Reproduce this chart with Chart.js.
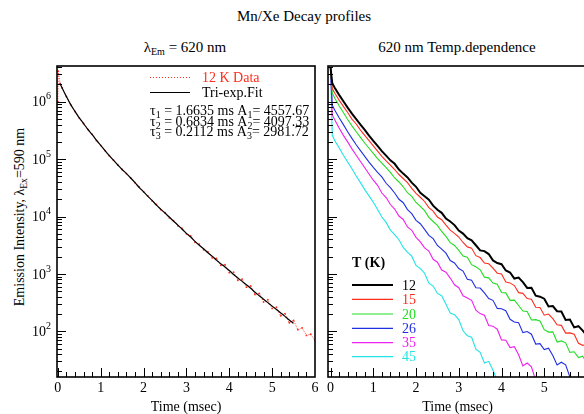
<!DOCTYPE html>
<html>
<head>
<meta charset="utf-8">
<script src="https://cdn.jsdelivr.net/npm/chart.js@4.4.1/dist/chart.umd.min.js"></script>
<style>
  html, body { margin: 0; padding: 0; background: #fff; }
  body { width: 584px; height: 414px; position: relative; overflow: hidden; font-family: 'Liberation Serif', 'Times New Roman', serif; color: #000; }
  canvas { position: absolute; top: 0; }
  #left-chart { left: 0; }
  #right-chart { left: 322px; }
  .label { position: absolute; white-space: nowrap; font-size: 15px; line-height: 15px; }
  .label sub { font-size: 10px; vertical-align: -3px; line-height: 0; }
  #main-title { top: 9px; left: 104px; width: 400px; text-align: center; }
  #left-title { top: 40px; left: 85px; width: 200px; text-align: center; }
  #right-title { top: 40px; left: 357px; width: 200px; text-align: center; }
  #y-title { left: 20px; top: 217px; font-size: 14px; line-height: 14px; transform: translate(-50%, -50%) rotate(-90deg); }
  #y-title sub { font-size: 9.5px; }
</style>
</head>
<body>
<div class="label" id="main-title">Mn/Xe Decay profiles</div>
<div class="label" id="left-title">&lambda;<sub>Em</sub> = 620 nm</div>
<div class="label" id="right-title">620 nm Temp.dependence</div>
<div class="label" id="y-title">Emission Intensity, &lambda;<sub>Ex</sub>=590 nm</div>
<canvas id="left-chart" width="322" height="414" style="width:322px;height:414px"></canvas>
<canvas id="right-chart" width="290" height="414" style="width:290px;height:414px"></canvas>
<script>
// Left panel: 12 K decay data and tri-exponential fit
const dataTime = [0, 0.01, 0.05,
    0.1, 0.2, 0.3, 0.4, 0.5, 0.6, 0.7, 0.8, 0.9, 1.0,
    1.1, 1.2, 1.3, 1.4, 1.5, 1.6, 1.7, 1.8, 1.9, 2.0,
    2.1, 2.2, 2.3, 2.4, 2.5, 2.6, 2.7, 2.8, 2.9, 3.0,
    3.1, 3.2, 3.3, 3.4, 3.5, 3.6, 3.7, 3.8, 3.9, 4.0,
    4.1, 4.2, 4.3, 4.4, 4.5, 4.6, 4.7, 4.8, 4.9, 5.0,
    5.1, 5.2, 5.3, 5.4, 5.5, 5.6, 5.7, 5.8, 5.9, 6.0];
const data12K = [1.0e6, 3.4e6, 2.1e6,
    1.74e6, 1.23e6, 8.9e5, 6.8e5, 5.2e5, 4.2e5, 3.3e5, 2.7e5, 2.1e5, 1.74e5,
    1.41e5, 1.15e5, 9.6e4, 7.9e4, 6.6e4, 5.6e4, 4.7e4, 3.9e4, 3.3e4, 2.7e4,
    2.3e4, 1.86e4, 1.62e4, 1.32e4, 1.17e4, 9.5e3, 8.5e3, 6.9e3, 6.2e3, 5.0e3,
    4.6e3, 3.55e3, 3.3e3, 2.63e3, 2.45e3, 1.91e3, 1.86e3, 1.41e3, 1.45e3, 1.05e3,
    1.07e3, 776, 813, 589, 617, 437, 457, 324, 355, 251,
    263, 186, 204, 141, 155, 107, 115, 85, 89, 69];
const fitTime = [0.05,
    0.1, 0.2, 0.3, 0.4, 0.5, 0.6, 0.7, 0.8, 0.9, 1.0,
    1.1, 1.2, 1.3, 1.4, 1.5, 1.6, 1.7, 1.8, 1.9, 2.0,
    2.1, 2.2, 2.3, 2.4, 2.5, 2.6, 2.7, 2.8, 2.9, 3.0,
    3.1, 3.2, 3.3, 3.4, 3.5, 3.6, 3.7, 3.8, 3.9, 4.0,
    4.1, 4.2, 4.3, 4.4, 4.5, 4.6, 4.7, 4.8, 4.9, 5.0,
    5.1, 5.2, 5.3, 5.4, 5.5];
const fitValues = [2.09e6,
    1.74e6, 1.23e6, 8.9e5, 6.8e5, 5.25e5, 4.17e5, 3.3e5, 2.69e5, 2.14e5, 1.74e5,
    1.41e5, 1.15e5, 9.5e4, 7.9e4, 6.6e4, 5.6e4, 4.7e4, 3.9e4, 3.2e4, 2.7e4,
    2.24e4, 1.91e4, 1.58e4, 1.35e4, 1.15e4, 9.8e3, 8.3e3, 7.1e3, 6.0e3, 5.1e3,
    4.4e3, 3.7e3, 3.16e3, 2.75e3, 2.34e3, 2.04e3, 1.74e3, 1.51e3, 1.32e3, 1.15e3,
    977, 851, 741, 646, 562, 479, 417, 363, 316, 275,
    240, 209, 182, 158, 138];
const tauValues = ['1.6635', '0.6834', '0.2112'];
const ampValues = ['4557.67', '4097.33', '2981.72'];

// Right panel: temperature dependence
const tempTime = [0, 0.04,
    0.1, 0.2, 0.3, 0.4, 0.5, 0.6, 0.7, 0.8, 0.9, 1.0,
    1.1, 1.2, 1.3, 1.4, 1.5, 1.6, 1.7, 1.8, 1.9, 2.0,
    2.1, 2.2, 2.3, 2.4, 2.5, 2.6, 2.7, 2.8, 2.9, 3.0,
    3.1, 3.2, 3.3, 3.4, 3.5, 3.6, 3.7, 3.8, 3.9, 4.0,
    4.1, 4.2, 4.3, 4.4, 4.5, 4.6, 4.7, 4.8, 4.9, 5.0,
    5.1, 5.2, 5.3, 5.4, 5.5, 5.6, 5.7, 5.8, 5.9, 6.0];
const tempLabels = ['12', '15', '20', '26', '35', '45'];
const decay12 = [3.9e6, 2.1e6,
    1.74e6, 1.32e6, 1.02e6, 7.9e5, 6.2e5, 5.0e5, 4.0e5, 3.24e5, 2.57e5, 2.09e5,
    1.70e5, 1.38e5, 1.15e5, 9.55e4, 8.3e4, 6.6e4, 5.6e4, 4.8e4, 3.9e4,
    3.3e4, 2.6e4, 2.26e4, 1.97e4, 1.55e4, 1.31e4, 1.16e4, 9.2e3, 8.2e3, 7.1e3,
    5.7e3, 5.05e3, 4.19e3, 3.85e3, 3.16e3, 2.57e3, 2.5e3, 2.22e3, 1.72e3, 1.55e3,
    1.48e3, 1.15e3, 1.06e3, 832, 863, 718, 570, 575, 417, 402,
    370, 272, 275, 224, 221, 158, 160, 117, 123, 103, 83];
const decay15 = [3.9e6, 1.70e6,
    1.41e6, 1.07e6, 8.3e5, 6.5e5, 5.0e5, 4.1e5, 3.2e5, 2.6e5, 2.1e5, 1.70e5,
    1.38e5, 1.12e5, 9.3e4, 7.9e4, 6.6e4, 5.4e4, 4.6e4, 3.9e4, 3.1e4,
    2.54e4, 2.17e4, 1.83e4, 1.43e4, 1.24e4, 9.8e3, 8.8e3, 7.1e3, 5.8e3, 5.1e3,
    4.4e3, 3.53e3, 2.96e3, 2.82e3, 2.08e3, 1.93e3, 1.55e3, 1.50e3, 1.26e3, 1.03e3,
    1.0e3, 724, 698, 628, 472, 459, 373, 363, 263, 260,
    191, 200, 166, 130, 127, 93, 94, 89, 62, 57, 59];
const decay20 = [3.9e6, 1.41e6,
    1.15e6, 8.5e5, 6.5e5, 4.9e5, 3.8e5, 3.0e5, 2.4e5, 1.91e5, 1.55e5, 1.26e5,
    1.02e5, 8.5e4, 7.1e4, 5.9e4, 4.7e4, 4.0e4, 3.3e4, 2.6e4, 2.24e4,
    1.76e4, 1.51e4, 1.27e4, 9.7e3, 8.2e3, 7.0e3, 5.5e3, 4.5e3, 3.51e3, 3.14e3,
    2.58e3, 2.05e3, 1.95e3, 1.45e3, 1.33e3, 1.18e3, 879, 855, 695, 661,
    476, 468, 347, 350, 282, 226, 221, 158, 160, 151,
    107, 97, 98, 65, 68, 63, 43, 44, 35, 37, 28];
const decay26 = [3.9e6, 8.7e5,
    7.1e5, 5.25e5, 4.0e5, 3.0e5, 2.3e5, 1.78e5, 1.41e5, 1.12e5, 8.9e4, 7.2e4,
    5.9e4, 4.9e4, 3.8e4, 3.2e4, 2.57e4, 2.0e4, 1.74e4, 1.32e4, 1.12e4,
    8.6e3, 7.5e3, 5.97e3, 4.69e3, 4.12e3, 3.13e3, 2.71e3, 2.30e3, 1.71e3, 1.55e3,
    1.24e3, 1.12e3, 809, 776, 575, 568, 466, 372, 347, 251,
    248, 229, 162, 145, 141, 95, 99, 89, 60, 61,
    48, 51, 38, 26, 29, 26, 16, 14, 15];
const decay35 = [3.9e6, 5.9e5,
    4.8e5, 3.5e5, 2.6e5, 2.0e5, 1.51e5, 1.17e5, 9.1e4, 7.1e4, 5.5e4, 4.3e4,
    3.5e4, 2.57e4, 2.14e4, 1.62e4, 1.35e4, 1.02e4, 8.9e3, 6.6e3, 5.75e3,
    4.33e3, 3.62e3, 2.84e3, 2.51e3, 1.80e3, 1.60e3, 1.17e3, 1.07e3, 847, 646,
    575, 417, 382, 347, 234, 204, 191, 126, 123, 109,
    71, 70, 52, 54, 39, 25, 28, 24, 14, 13];
const decay45 = [3.9e6, 2.6e5,
    2.1e5, 1.58e5, 1.17e5, 8.9e4, 6.8e4, 5.1e4, 3.9e4, 2.95e4, 2.29e4,
    1.77e4, 1.33e4, 9.8e3, 7.9e3, 5.8e3, 4.84e3, 3.94e3, 2.90e3, 2.37e3, 2.04e3,
    1.41e3, 1.24e3, 1.03e3, 692, 614, 457, 417, 295, 209, 195,
    160, 102, 84, 79, 49, 43, 28, 30, 21, 14, 14];

// Axis tick labels
const xTickLabels = [0, 1, 2, 3, 4, 5, 6];
const xTickLabelsRight = [0, 1, 2, 3, 4, 5];
const yTickValues = [1e2, 1e3, 1e4, 1e5, 1e6];

const RED = '#ff2d1e';
const tempColors = ['#000000', RED, '#22dd22', '#2030e0', '#ee22ee', '#22e4e4'];
const FONT = '"Liberation Serif", "Times New Roman", serif';

function toPoints(times, values) {
    return values.map((v, i) => ({ x: times[i], y: v }));
}

// Draws text with subscripts, parts = strings or {sub: '...'}
function drawRich(ctx, x, baseline, parts, size) {
    let cx = x;
    parts.forEach(p => {
        if (typeof p === 'string') {
            ctx.font = `${size}px ${FONT}`;
            ctx.fillText(p, cx, baseline);
            cx += ctx.measureText(p).width;
        } else {
            ctx.font = `${Math.round(size * 0.68)}px ${FONT}`;
            ctx.fillText(p.sub, cx, baseline + 3);
            cx += ctx.measureText(p.sub).width;
        }
    });
}

// Frame, inward ticks and tick labels
const frameAxes = {
    id: 'frameAxes',
    afterDatasetsDraw(chart, args, opts) {
        const { ctx, chartArea: a } = chart;
        const xs = chart.scales.x;
        const ys = chart.scales.y;
        ctx.save();
        ctx.strokeStyle = '#000';
        ctx.fillStyle = '#000';
        ctx.lineWidth = 1;
        ctx.beginPath();
        for (let i = 0; i <= 30; i++) {
            const px = Math.round(xs.getPixelForValue(i / 5)) + 0.5;
            if (px > a.right) continue;
            const len = i % 5 === 0 ? 9 : 5;
            ctx.moveTo(px, a.bottom);
            ctx.lineTo(px, a.bottom - len);
        }
        for (let n = 1; n <= 6; n++) {
            for (let m = 1; m <= 9; m++) {
                const v = m * Math.pow(10, n);
                if (v <= ys.min || v >= ys.max) continue;
                const py = Math.round(ys.getPixelForValue(v)) + 0.5;
                const len = m === 1 ? 9 : 5;
                ctx.moveTo(a.left, py);
                ctx.lineTo(a.left + len, py);
            }
        }
        ctx.stroke();

        ctx.lineWidth = 1.6;
        ctx.strokeRect(a.left, a.top, a.right - a.left, a.bottom - a.top);

        ctx.font = `14px ${FONT}`;
        ctx.textAlign = 'center';
        ctx.textBaseline = 'middle';
        opts.xLabels.forEach(v => {
            ctx.fillText(String(v), xs.getPixelForValue(v), a.bottom + 11);
        });
        ctx.fillText(opts.xTitle, (a.left + a.right) / 2, a.bottom + 30);

        if (opts.yLabels) {
            ctx.textAlign = 'left';
            opts.yLabels.forEach(v => {
                const py = ys.getPixelForValue(v);
                const exp = String(Math.round(Math.log10(v)));
                ctx.font = `14px ${FONT}`;
                const w1 = ctx.measureText('10').width;
                ctx.font = `10px ${FONT}`;
                const w2 = ctx.measureText(exp).width;
                const x0 = a.left - 6 - w1 - w2;
                ctx.font = `14px ${FONT}`;
                ctx.fillText('10', x0, py + 1);
                ctx.font = `10px ${FONT}`;
                ctx.fillText(exp, x0 + w1, py - 5);
            });
        }
        ctx.restore();
    }
};

// Legend and fit parameters of the left panel
const fitLegend = {
    id: 'fitLegend',
    afterDatasetsDraw(chart) {
        const ctx = chart.ctx;
        ctx.save();
        ctx.lineWidth = 1;
        ctx.strokeStyle = RED;
        ctx.setLineDash([1, 2]);
        ctx.beginPath();
        ctx.moveTo(150, 77.5);
        ctx.lineTo(190, 77.5);
        ctx.stroke();
        ctx.setLineDash([]);
        ctx.strokeStyle = '#000';
        ctx.beginPath();
        ctx.moveTo(150, 92.5);
        ctx.lineTo(190, 92.5);
        ctx.stroke();

        ctx.textAlign = 'left';
        ctx.textBaseline = 'alphabetic';
        ctx.font = `14px ${FONT}`;
        ctx.fillStyle = RED;
        ctx.fillText('12 K Data', 202, 82);
        ctx.fillStyle = '#000';
        ctx.fillText('Tri-exp.Fit', 202, 97);

        const baselines = [115, 125.5, 136];
        tauValues.forEach((tau, i) => {
            const k = String(i + 1);
            drawRich(ctx, 150, baselines[i],
                ['\u03c4', { sub: k }, ' = ' + tau + ' ms A', { sub: k }, '= ' + ampValues[i]], 14);
        });
        ctx.restore();
    }
};

// Temperature legend of the right panel
const tempLegend = {
    id: 'tempLegend',
    afterDatasetsDraw(chart) {
        const ctx = chart.ctx;
        const rows = [285, 299.3, 314, 328.3, 342.7, 356.7];
        ctx.save();
        ctx.textAlign = 'left';
        ctx.textBaseline = 'middle';
        ctx.fillStyle = '#000';
        ctx.font = `bold 14px ${FONT}`;
        ctx.fillText('T (K)', 30, 263);
        ctx.font = `14px ${FONT}`;
        tempLabels.forEach((lab, i) => {
            ctx.strokeStyle = tempColors[i];
            ctx.lineWidth = i === 0 ? 2 : 1.2;
            ctx.beginPath();
            ctx.moveTo(30, rows[i]);
            ctx.lineTo(71, rows[i]);
            ctx.stroke();
            ctx.fillStyle = tempColors[i];
            ctx.fillText(lab, 80, rows[i] + 1);
        });
        ctx.restore();
    }
};

function makeOptions(xMin, padding, axesOpts) {
    return {
        responsive: false,
        animation: false,
        devicePixelRatio: 1,
        events: [],
        layout: { padding },
        elements: { point: { radius: 0 }, line: { tension: 0 } },
        plugins: {
            legend: { display: false },
            tooltip: { enabled: false },
            frameAxes: axesOpts
        },
        scales: {
            x: { type: 'linear', min: xMin, max: 6, display: false },
            y: { type: 'logarithmic', min: 16, max: 4.2e6, display: false }
        }
    };
}

new Chart(document.getElementById('left-chart'), {
    type: 'line',
    data: {
        datasets: [
            {
                label: 'Tri-exp.Fit',
                data: toPoints(fitTime, fitValues),
                borderColor: '#000',
                borderWidth: 1.2,
                cubicInterpolationMode: 'monotone'
            },
            {
                label: '12 K Data',
                data: toPoints(dataTime, data12K),
                borderColor: RED,
                borderWidth: 1,
                borderDash: [1, 1.5],
                pointRadius: 0.9,
                pointBorderWidth: 0,
                pointBackgroundColor: RED
            }
        ]
    },
    options: makeOptions(-0.02, { left: 57, right: 7, top: 66, bottom: 37 },
        { xLabels: xTickLabels, xTitle: 'Time (msec)', yLabels: yTickValues }),
    plugins: [frameAxes, fitLegend]
});

const decays = [decay12, decay15, decay20, decay26, decay35, decay45];
new Chart(document.getElementById('right-chart'), {
    type: 'line',
    data: {
        datasets: decays.map((vals, i) => ({
            label: tempLabels[i] + ' K',
            data: toPoints(tempTime, vals),
            borderColor: tempColors[i],
            borderWidth: i === 0 ? 2 : 1.1
        }))
    },
    options: makeOptions(-0.06, { left: 6, right: 25, top: 66, bottom: 37 },
        { xLabels: xTickLabelsRight, xTitle: 'Time (msec)', yLabels: null }),
    plugins: [frameAxes, tempLegend]
});
</script>
</body>
</html>
